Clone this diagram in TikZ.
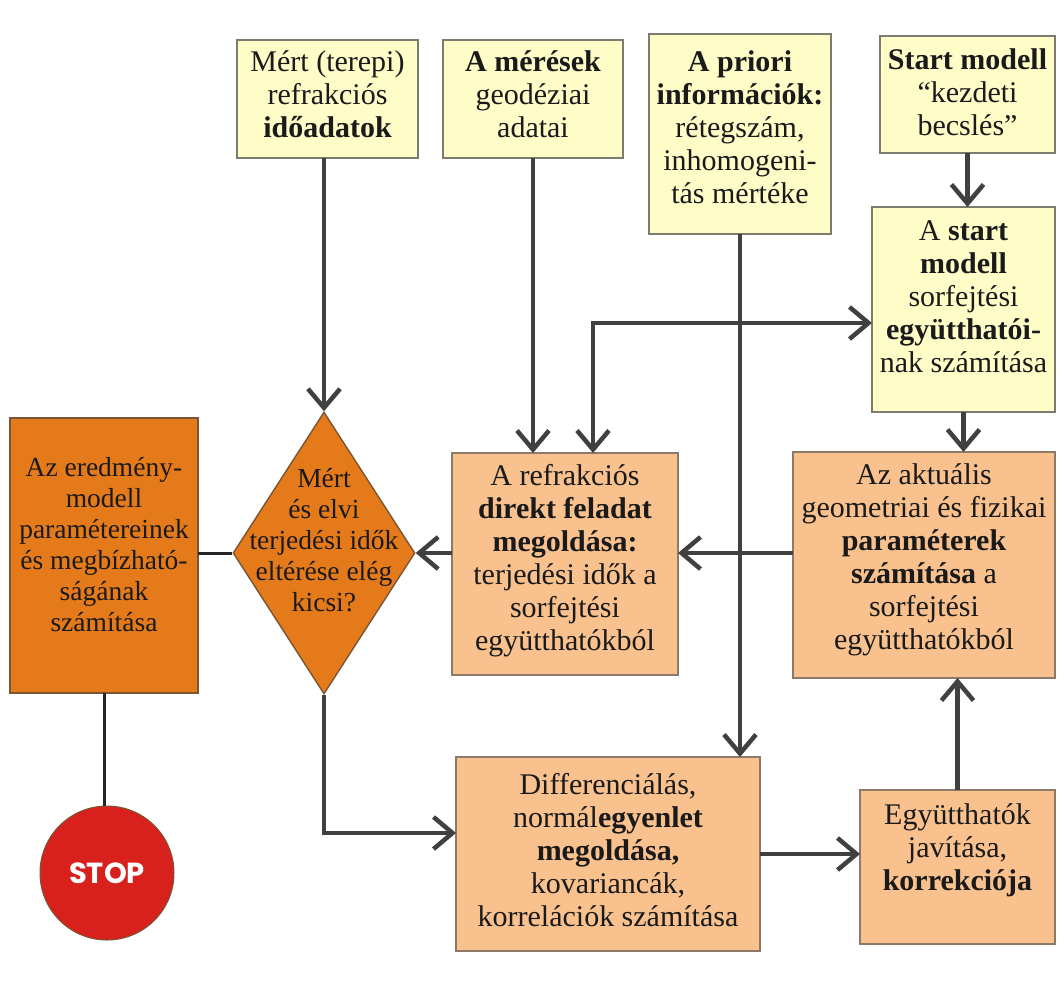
\documentclass[tikz,border=0pt]{standalone}
\usepackage{fontspec}
\setmainfont{Liberation Serif}
\newfontfamily\stopfont{Poppins}
\usetikzlibrary{arrows.meta,shapes.geometric,calc}

\definecolor{lineclr}{HTML}{404040}
\definecolor{paleyellow}{HTML}{FEFDC8}
\definecolor{peach}{HTML}{F8C18D}
\definecolor{deeporange}{HTML}{E57A1A}
\definecolor{stopred}{HTML}{D8201C}
\definecolor{yborder}{HTML}{7C7B6E}
\definecolor{pborder}{HTML}{8E7A68}
\definecolor{oborder}{HTML}{7A5534}
\definecolor{txtclr}{HTML}{1A1A1A}

\begin{document}
\begin{tikzpicture}[x=1pt,y=-1pt,
  box/.style={rectangle, line width=1.6pt, inner sep=0pt, outer sep=0pt},
  ybox/.style={box, fill=paleyellow, draw=yborder},
  pbox/.style={box, fill=peach, draw=pborder},
  obox/.style={box, fill=deeporange, draw=oborder},
  txt/.style={align=center, inner sep=0pt, text=txtclr,
              font=\fontsize{30}{33}\selectfont},
  smalltxt/.style={txt, font=\fontsize{27.5}{31}\selectfont},
  flow/.style={draw=lineclr, line width=4.5pt,
               -{Straight Barb[length=19pt,width=32pt]}},
  plain/.style={draw=black!85, line width=3pt}
]
\useasboundingbox (0,0) rectangle (1057,994);

% ---- input boxes (top row) ----
\node[ybox, minimum width=181pt, minimum height=118pt] (mert) at (327.5,99) {};
\node[txt] (mertT) at (327.5,94) {Mért (terepi)\\refrakciós\\\textbf{időadatok}};

\node[ybox, minimum width=180pt, minimum height=118pt] (meres) at (533,99) {};
\node[txt] (meresT) at (533,94) {\textbf{A mérések}\\geodéziai\\adatai};

\node[ybox, minimum width=182pt, minimum height=200pt] (apriori) at (740,134) {};
\node[txt] (aprioriT) at (740,127) {\textbf{A priori}\\\textbf{információk:}\\rétegszám,\\inhomogeni-\\tás mértéke};

\node[ybox, minimum width=175pt, minimum height=117pt] (startm) at (967.5,94.5) {};
\node[txt] (startmT) at (967.5,92) {\textbf{Start modell}\\“kezdeti\\becslés”};

\node[ybox, minimum width=183pt, minimum height=205pt] (astart) at (963.5,309.5) {};
\node[txt] (astartT) at (963.5,297) {A \textbf{start}\\\textbf{modell}\\sorfejtési\\\textbf{együtthatói-}\\nak számítása};

% ---- processing boxes ----
\node[pbox, minimum width=226pt, minimum height=222pt] (ref) at (565,564) {};
\node[txt] (refT) at (565,561) {A refrakciós\\\textbf{direkt feladat}\\\textbf{megoldása:}\\terjedési idők a\\sorfejtési\\együtthatókból};

\node[pbox, minimum width=262pt, minimum height=226pt] (akt) at (924,565) {};
\node[txt] (aktT) at (924,560) {Az aktuális\\geometriai és fizikai\\\textbf{paraméterek}\\\textbf{számítása} a\\sorfejtési\\együtthatókból};

\node[pbox, minimum width=304pt, minimum height=194pt] (diff) at (608,854) {};
\node[txt] (diffT) at (608,850) {Differenciálás,\\normál\textbf{egyenlet}\\\textbf{megoldása,}\\kovariancák,\\korrelációk számítása};

\node[pbox, minimum width=195pt, minimum height=154pt] (egy) at (957.5,867) {};
\node[txt] (egyT) at (957.5,850) {Együtthatók\\javítása,\\\textbf{korrekciója}};

% ---- decision, result, stop ----
\node[diamond, fill=deeporange, draw=oborder, line width=1.4pt, inner sep=0pt,
      minimum width=182pt, minimum height=282pt] (dia) at (324,553) {};
\node[smalltxt] (diaT) at (324,540) {Mért\\és elvi\\terjedési idők\\eltérése elég\\kicsi?};

\node[obox, minimum width=188pt, minimum height=275pt] (res) at (104,555.5) {};
\node[smalltxt] (resT) at (104,545) {Az eredmény-\\modell\\paramétereinek\\és megbízható-\\ságának\\számítása};

\node[circle, fill=stopred, draw=oborder, line width=1pt, minimum size=134pt,
      inner sep=0pt, text=white, font=\stopfont\bfseries\fontsize{29}{30}\selectfont]
      (stop) at (107,873) {STOP};

% ---- connectors ----
\coordinate (j) at (740,323);
\coordinate (k) at (593,323);
\coordinate (dturn) at (324,833);

\draw[flow] (mert.south -| dia.north) -- (dia.north);
\draw[flow] (meres.south) -- (meres.south |- ref.north);
\draw[flow] (apriori.south) -- (apriori.south |- diff.north);
\draw[flow] (j) -- (astart.west |- j);
\draw[flow] (j) -- (k) -- (k |- ref.north);
\draw[flow] (startm.south) -- (startm.south |- astart.north);
\draw[flow] (astart.south) -- (astart.south |- akt.north);
\draw[flow] (akt.west |- dia.east) -- (ref.east |- dia.east);
\draw[flow] (ref.west |- dia.east) -- (dia.east);
\draw[flow] (dia.south) |- (diff.west |- dturn);
\draw[flow] (diff.east) -- (diff.east -| egy.west);
\draw[flow] (egy.north) -- (egy.north |- akt.south);

\draw[plain] (dia.west) -- (dia.west -| res.east);
\draw[plain] (res.south) -- (res.south |- stop.north);
\end{tikzpicture}
\end{document}
